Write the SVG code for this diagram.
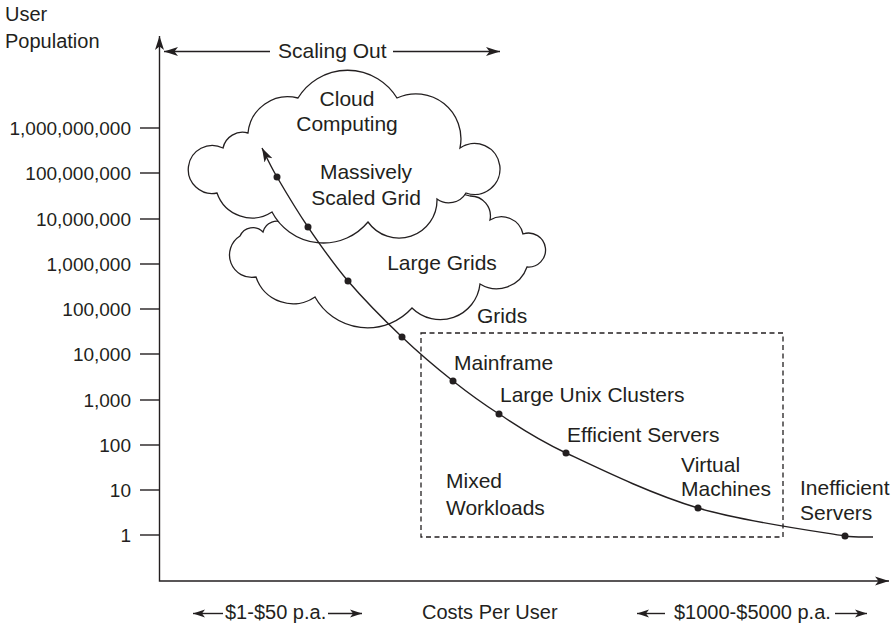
<svg xmlns="http://www.w3.org/2000/svg" width="894" height="625" viewBox="0 0 894 625">
<defs>
<style>
text{font-family:"Liberation Sans",Arial,sans-serif;fill:#231f20}
.lbl{font-size:21px}
.mid{text-anchor:middle}
.ax{font-size:19px;text-anchor:end}
.bot{font-size:20px}
.ln{stroke:#231f20;stroke-width:1.4;fill:none}
.cloud{fill:#fff;stroke:#231f20;stroke-width:1.3}
.dot{fill:#231f20}
.box{fill:none;stroke:#231f20;stroke-width:1.3;stroke-dasharray:5 3.5}
</style>
<marker id="ah" markerWidth="15" markerHeight="10" refX="14" refY="5" orient="auto-start-reverse" markerUnits="userSpaceOnUse" viewBox="0 0 15 10"><path d="M0,0.5 L14,5 L0,9.5 L3.5,5 Z" fill="#231f20"/></marker>
<marker id="ahs" markerWidth="13" markerHeight="9" refX="12" refY="4.5" orient="auto-start-reverse" markerUnits="userSpaceOnUse" viewBox="0 0 13 9"><path d="M0,0.5 L12,4.5 L0,8.5 L3,4.5 Z" fill="#231f20"/></marker>
</defs>
<rect width="894" height="625" fill="#fff"/>

<g id="axes">
<path class="ln" d="M159.5,36 L159.5,581 L889,581" marker-start="url(#ah)" marker-end="url(#ah)"/>
<g id="ticks" class="ln">
<line x1="140" y1="128" x2="159.5" y2="128"/>
<line x1="140" y1="173" x2="159.5" y2="173"/>
<line x1="140" y1="219" x2="159.5" y2="219"/>
<line x1="140" y1="264" x2="159.5" y2="264"/>
<line x1="140" y1="309" x2="159.5" y2="309"/>
<line x1="140" y1="354" x2="159.5" y2="354"/>
<line x1="140" y1="400" x2="159.5" y2="400"/>
<line x1="140" y1="445" x2="159.5" y2="445"/>
<line x1="140" y1="490" x2="159.5" y2="490"/>
<line x1="140" y1="535" x2="159.5" y2="535"/>
</g>
<g id="tick-labels">
<text class="ax" x="131" y="135">1,000,000,000</text>
<text class="ax" x="131" y="180">100,000,000</text>
<text class="ax" x="131" y="226">10,000,000</text>
<text class="ax" x="131" y="271">1,000,000</text>
<text class="ax" x="131" y="316">100,000</text>
<text class="ax" x="131" y="361">10,000</text>
<text class="ax" x="131" y="407">1,000</text>
<text class="ax" x="131" y="452">100</text>
<text class="ax" x="131" y="497">10</text>
<text class="ax" x="131" y="542">1</text>
</g>
<text x="5" y="21" style="font-size:20px">User</text>
<text x="5" y="48" style="font-size:20px">Population</text>
</g>

<g id="scaling-out">
<text class="lbl" x="278" y="58">Scaling Out</text>
<line class="ln" x1="270" y1="51.5" x2="164" y2="51.5" marker-end="url(#ah)"/>
<line class="ln" x1="393" y1="51.5" x2="500" y2="51.5" marker-end="url(#ah)"/>
</g>

<g id="large-grids">
<path class="cloud" d="M263,232 A14 14 0 0 1 285,224 Q380,168 470,196 A20 20 0 0 1 490,220 A22 22 0 0 1 523,234 A17 17 0 1 1 527,267 A32 32 0 0 1 480,284 A40 40 0 0 1 412,308 A60 60 0 0 1 315,297 A39 39 0 0 1 256,277 A22.4 22.4 0 0 1 240,236 A14 14 0 0 1 263,232 Z"/>
<text class="lbl mid" x="442" y="270">Large Grids</text>
</g>

<g id="cloud-computing">
<path class="cloud" d="M223,148 A20 20 0 0 1 248,133 A40 40 0 0 1 298,98 A58 58 0 0 1 397,98 A45 45 0 0 1 460,148 A25.5 25.5 0 1 1 466,193 A20 20 0 0 1 437,199 A38 38 0 0 1 368,222 A58 58 0 0 1 272,212 A37 37 0 0 1 217,193 A24 24 0 1 1 223,148 Z"/>
<text class="lbl mid" x="347" y="106">Cloud</text>
<text class="lbl mid" x="347" y="131">Computing</text>
<text class="lbl mid" x="366" y="179">Massively</text>
<text class="lbl mid" x="366" y="205">Scaled Grid</text>
</g>

<g id="grids"><text class="lbl" x="477" y="323">Grids</text></g>

<g id="mixed-workloads">
<rect class="box" x="421" y="333" width="362" height="204"/>
<text class="lbl" x="446" y="488">Mixed</text>
<text class="lbl" x="446" y="515">Workloads</text>
</g>

<g id="connectors">
<path class="ln" d="M262,148 C264.5,152.8 269.3,163.8 277,177 C284.7,190.2 296.2,209.7 308,227 C319.8,244.3 332.3,262.7 348,281 C363.7,299.3 384.5,320.3 402,337 C419.5,353.7 436.8,368.2 453,381 C469.2,393.8 480.2,402 499,414 C517.8,426 532.8,437.3 566,453 C599.2,468.7 651.5,494.2 698,508 C744.5,521.8 815.8,531.2 845,536 C855,537.5 865,537 873,537" marker-start="url(#ah)"/>
</g>

<g id="points">
<circle class="dot" cx="277" cy="177" r="3.5"/>
<circle class="dot" cx="308" cy="227" r="3.5"/>
<circle class="dot" cx="348" cy="281" r="3.5"/>
<circle class="dot" cx="402" cy="337" r="3.5"/>
<circle class="dot" cx="453" cy="381" r="3.5"/>
<circle class="dot" cx="499" cy="414" r="3.5"/>
<circle class="dot" cx="566" cy="453" r="3.5"/>
<circle class="dot" cx="698" cy="508" r="3.5"/>
<circle class="dot" cx="845" cy="536" r="3.5"/>
</g>

<g id="mainframe"><text class="lbl" x="454" y="370">Mainframe</text></g>
<g id="large-unix-clusters"><text class="lbl" x="500" y="402">Large Unix Clusters</text></g>
<g id="efficient-servers"><text class="lbl" x="567" y="442">Efficient Servers</text></g>
<g id="virtual-machines"><text class="lbl" x="681" y="472">Virtual</text><text class="lbl" x="681" y="496">Machines</text></g>
<g id="inefficient-servers"><text class="lbl" x="800" y="495">Inefficient</text><text class="lbl" x="800" y="520">Servers</text></g>

<g id="x-axis-labels">
<line class="ln" x1="223" y1="613.5" x2="193" y2="613.5" marker-end="url(#ahs)"/>
<text class="bot" x="225" y="619">$1-$50 p.a.</text>
<line class="ln" x1="328" y1="613.5" x2="362" y2="613.5" marker-end="url(#ahs)"/>
<text class="bot" x="422" y="619">Costs Per User</text>
<line class="ln" x1="665" y1="613.5" x2="637" y2="613.5" marker-end="url(#ahs)"/>
<text class="bot" x="674" y="619">$1000-$5000 p.a.</text>
<line class="ln" x1="835" y1="613.5" x2="867" y2="613.5" marker-end="url(#ahs)"/>
</g>
</svg>
